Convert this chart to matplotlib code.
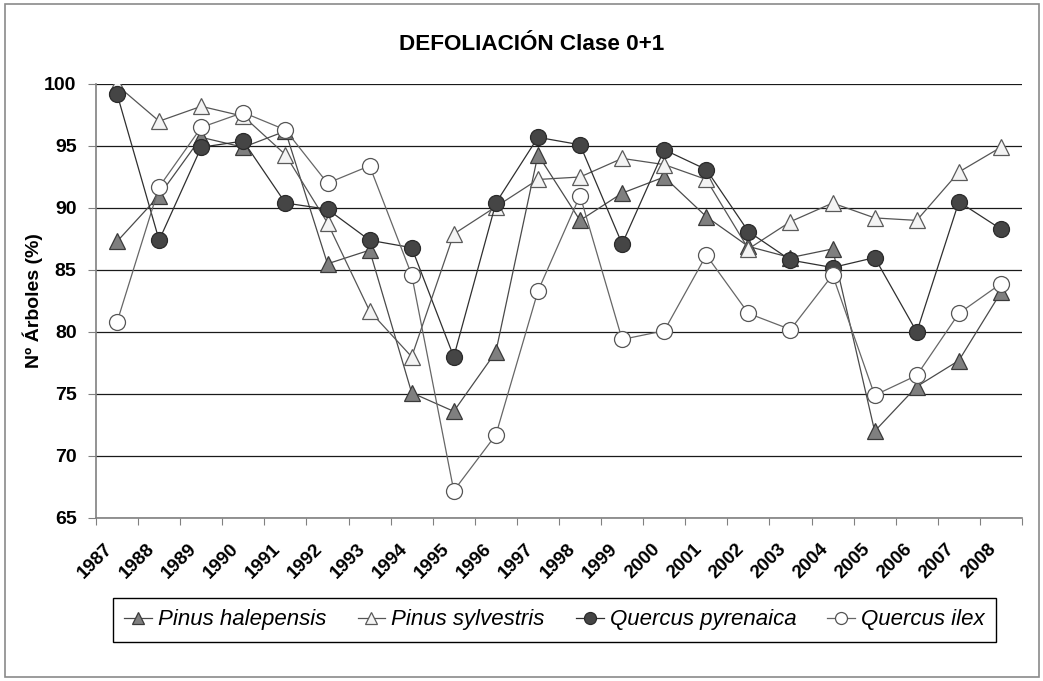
import numpy as np
import matplotlib
matplotlib.use("Agg")
import matplotlib.pyplot as plt
from matplotlib.transforms import ScaledTranslation

years = [str(y) for y in range(1987, 2009)]
halepensis = [87.3, 91.0, 95.7, 94.9, 96.2, 85.5, 86.6, 75.1, 73.6, 78.4, 94.3,
              89.0, 91.2, 92.5, 89.3, 86.9, 86.0, 86.7, 72.0, 75.6, 77.7, 83.2]
sylvestris = [99.9, 97.0, 98.2, 97.4, 94.3, 88.8, 81.7, 78.0, 87.9, 90.1, 92.3,
              92.5, 94.0, 93.5, 92.3, 86.7, 88.9, 90.4, 89.2, 89.0, 92.9, 94.9]
pyrenaica = [99.2, 87.4, 94.9, 95.4, 90.4, 89.9, 87.4, 86.8, 78.0, 90.4, 95.7,
             95.1, 87.1, 94.7, 93.1, 88.1, 85.8, 85.2, 86.0, 80.0, 90.5, 88.3]
ilex = [80.8, 91.7, 96.5, 97.7, 96.3, 92.0, 93.4, 84.6, 67.2, 71.7, 83.3,
        91.0, 79.4, 80.1, 86.2, 81.5, 80.2, 84.6, 74.9, 76.5, 81.5, 83.9]
yticks = [65, 70, 75, 80, 85, 90, 95, 100]

plt.rcParams["font.family"] = ["Liberation Sans", "DejaVu Sans"]

fig = plt.figure(figsize=(10.43, 6.81), dpi=100)
fig.patch.set_facecolor("white")
# outer frame of the chart
fig.add_artist(plt.Rectangle((5/1043, 4/681), 1034/1043, 673/681, transform=fig.transFigure,
                             fill=False, edgecolor="#8a8a8a", lw=1.2))
ax = fig.add_axes([96/1043, 1-518/681, 926/1043, 434/681])

x = np.arange(len(years))
series = [
    ("Pinus halepensis", halepensis, "^", "#7f7f7f", "#3a3a3a", "#4a4a4a", 11),
    ("Pinus sylvestris", sylvestris, "^", "#f4f4f4", "#5a5a5a", "#555555", 11),
    ("Quercus pyrenaica", pyrenaica, "o", "#454545", "#2a2a2a", "#2f2f2f", 11.5),
    ("Quercus ilex", ilex, "o", "#ffffff", "#555555", "#666666", 11.5),
]
for name, vals, mk, fc, ec, lc, ms in series:
    ax.plot(x, vals, color=lc, lw=0.9, marker=mk, ms=ms, mfc=fc, mec=ec, mew=0.9,
            label=name, zorder=3)

ax.set_xlim(-0.5, len(years) - 0.5)
ax.set_ylim(65, 100)
ax.set_yticks(yticks)
ax.yaxis.grid(True, color="#1a1a1a", lw=0.9)
ax.set_axisbelow(True)
for s in ["top", "right"]:
    ax.spines[s].set_visible(False)
for s in ["left", "bottom"]:
    ax.spines[s].set_color("#808080")
    ax.spines[s].set_linewidth(1.2)

ax.set_xticks(np.arange(-0.5, len(years), 1.0))
ax.set_xticklabels([])
ax.set_xticks(x, minor=True)
ax.set_xticklabels(years, minor=True, rotation=45, ha="right", va="top",
                   rotation_mode="anchor", fontsize=13.5, fontweight="bold")
ax.tick_params(axis="x", which="major", direction="out", length=5, color="#808080")
ax.tick_params(axis="x", which="minor", length=0, pad=16)
off = ScaledTranslation(-13/100, 0, fig.dpi_scale_trans)
for lab in ax.get_xticklabels(minor=True):
    lab.set_transform(lab.get_transform() + off)

ax.tick_params(axis="y", direction="out", length=6, color="#808080", pad=8,
               labelsize=14)
for lab in ax.get_yticklabels():
    lab.set_fontweight("bold")

ax.set_ylabel("Nº Árboles (%)", fontsize=14, fontweight="bold")
ax.yaxis.set_label_coords(-53/926, 0.5)

fig.text(532/1043, 1-45/681, "DEFOLIACIÓN Clase 0+1", ha="center", va="center",
         fontsize=16.2, fontweight="bold")

leg = fig.legend(loc="center", bbox_to_anchor=(554.5/1043, 1-620/681), ncol=4,
                 frameon=True, fancybox=False, edgecolor="black", framealpha=1,
                 prop={"style": "italic", "size": 16}, handlelength=1.25,
                 handletextpad=0.27, columnspacing=1.4, borderpad=0.5,
                 borderaxespad=0, markerscale=0.75)
leg.get_frame().set_linewidth(1.0)

fig.savefig("out.png", dpi=100, facecolor="white")
